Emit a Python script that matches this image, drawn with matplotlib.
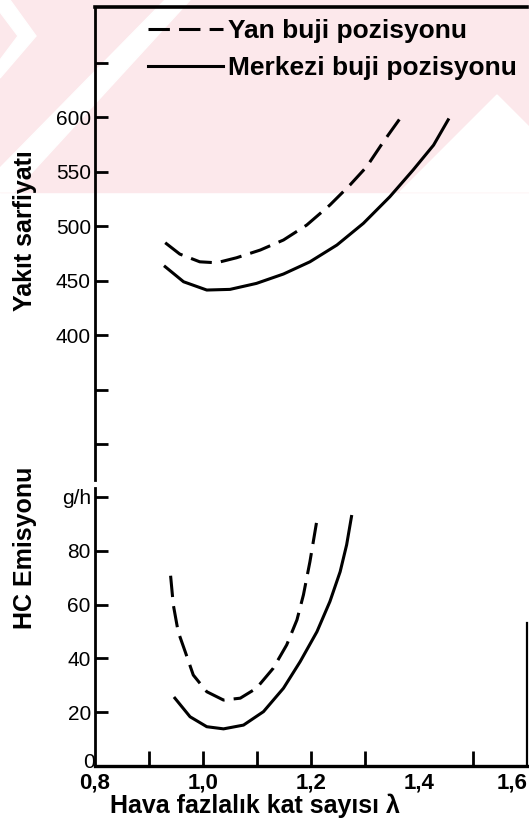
import matplotlib.pyplot as plt
from matplotlib.patches import Rectangle, Polygon
from matplotlib.transforms import ScaledTranslation

# Yakit sarfiyati (fuel consumption) vs lambda
lam_fuel_yan = [0.930, 0.957, 0.994, 1.025, 1.062, 1.106, 1.149, 1.192, 1.235,
                1.272, 1.303, 1.334, 1.365]
fuel_yan = [484.7, 474.3, 467.2, 466.3, 470.9, 478.0, 487.2, 500.9, 519.3,
            537.6, 554.4, 577.3, 598.8]

lam_fuel_merkez = [0.930, 0.964, 1.007, 1.050, 1.099, 1.149, 1.198, 1.248, 1.297,
                   1.346, 1.389, 1.427, 1.454]
fuel_merkez = [462.7, 448.9, 441.3, 441.9, 447.4, 456.0, 467.2, 482.6, 502.5,
               526.9, 551.4, 574.3, 597.5]

# HC emisyonu vs lambda
lam_hc_yan = [0.940, 0.945, 0.954, 0.967, 0.982, 1.007, 1.038, 1.069, 1.099,
              1.130, 1.155, 1.174, 1.186, 1.198, 1.211]
hc_yan = [70.7, 59.9, 49.9, 42.5, 33.8, 27.6, 24.5, 25.2, 28.9,
          36.3, 45.0, 54.3, 63.6, 75.9, 91.4]

lam_hc_merkez = [0.948, 0.976, 1.007, 1.038, 1.075, 1.112, 1.149, 1.180, 1.211,
                 1.235, 1.254, 1.266, 1.275]
hc_merkez = [25.2, 18.3, 14.6, 13.8, 15.2, 20.2, 28.9, 38.8, 49.9,
             61.1, 72.2, 82.2, 92.7]

fuel_ticks = [300, 350, 400, 450, 500, 550, 600, 650]
fuel_labels = ['', '', '400', '450', '500', '550', '600', '']
hc_ticks = [0, 20, 40, 60, 80, 100]
hc_labels = ['0', '20', '40', '60', '80', 'g/h']
x_label_pos = [0.8, 1.0, 1.2, 1.4, 1.6]
x_labels = ['0,8', '1,0', '1,2', '1,4', '1,6']
x_marks = [0.9, 1.0, 1.1, 1.2, 1.3, 1.5]

plt.rcParams['font.family'] = ['Liberation Sans', 'DejaVu Sans']

W, H = 529, 830
fig = plt.figure(figsize=(W / 100, H / 100), dpi=100)


def fpos(x, y):
    return (x / W, 1 - y / H)


# faint pink watermark band at the top of the scan
fig.patches.append(Rectangle(fpos(0, 192), 1, 192 / H, transform=fig.transFigure,
                             color='#fce8eb', zorder=-3))
white_shapes = [
    [(0, 0), (10, 0), (36, 36), (0, 78), (0, 60), (18, 36), (0, 12)],
    [(0, 168), (0, 192), (14, 192), (190, 0), (165, 0)],
    [(497, 95), (400, 192), (529, 192), (529, 127)],
]
for pts in white_shapes:
    fig.patches.append(Polygon([fpos(*p) for p in pts], closed=True,
                               transform=fig.transFigure, color='white', zorder=-2))

ax_top = fig.add_axes([95 / W, 1 - 480 / H, 432 / W, 473 / H])
ax_bot = fig.add_axes([95 / W, 1 - 766 / H, 432 / W, 278 / H])
for ax in (ax_top, ax_bot):
    ax.set_facecolor('none')
    ax.set_zorder(2)
    ax.set_xlim(0.8, 1.6)

# upper panel
ax_top.plot(lam_fuel_yan, fuel_yan, color='black', lw=2.2, dashes=(7, 3),
            label='Yan buji pozisyonu')
ax_top.plot(lam_fuel_merkez, fuel_merkez, color='black', lw=2.2,
            label='Merkezi buji pozisyonu')
ax_top.set_ylim(267, 701)
ax_top.spines['bottom'].set_visible(False)
ax_top.spines['right'].set_visible(False)
ax_top.spines['left'].set_linewidth(2)
ax_top.spines['top'].set_linewidth(2.6)
ax_top.set_yticks(fuel_ticks, fuel_labels)
ax_top.tick_params(axis='y', direction='in', length=9, width=2, labelsize=15, pad=3)
ax_top.tick_params(axis='x', bottom=False, labelbottom=False)

leg = ax_top.legend(loc='upper left', bbox_to_anchor=fpos(148, 19),
                    bbox_transform=fig.transFigure, frameon=False,
                    prop={'size': 19, 'weight': 'bold'}, handlelength=2.85,
                    handletextpad=0.2, borderpad=0, borderaxespad=0,
                    labelspacing=0.5)

# lower panel
ax_bot.plot(lam_hc_yan, hc_yan, color='black', lw=2.2, dashes=(7, 3))
ax_bot.plot(lam_hc_merkez, hc_merkez, color='black', lw=2.2)
ax_bot.set_ylim(0, 103.3)
ax_bot.spines['top'].set_visible(False)
ax_bot.spines['left'].set_linewidth(2)
ax_bot.spines['bottom'].set_linewidth(2.4)
ax_bot.spines['right'].set_linewidth(1.6)
ax_bot.spines['right'].set_bounds(0, 53)
ax_bot.set_yticks(hc_ticks, hc_labels)
ax_bot.get_yticklabels()[-1].set_fontsize(12)
ax_bot.tick_params(axis='y', direction='in', length=9, width=2, labelsize=15, pad=3)
ax_bot.get_yticklabels()[0].set_transform(
    ax_bot.get_yaxis_transform(which='tick1') + ScaledTranslation(0, 4 / 72, fig.dpi_scale_trans))
ax_bot.xaxis.remove_overlapping_locs = False
ax_bot.set_xticks(x_label_pos, x_labels)
ax_bot.set_xticks(x_marks, minor=True)
ax_bot.tick_params(axis='x', which='major', length=0, labelsize=16, pad=5)
ax_bot.tick_params(axis='x', which='minor', direction='in', length=11, width=2)
for t in ax_bot.get_xticklabels():
    t.set_fontweight('bold')
ax_bot.get_xticklabels()[-1].set_horizontalalignment('right')

fig.text(*fpos(25, 231), 'Yakıt sarfiyatı', rotation=90, ha='center', va='center',
         fontsize=18, fontweight='bold')
fig.text(*fpos(25, 548), 'HC Emisyonu', rotation=90, ha='center', va='center',
         fontsize=18, fontweight='bold')
fig.text(*fpos(255, 806), 'Hava fazlalık kat sayısı λ', ha='center', va='center',
         fontsize=18, fontweight='bold')

fig.savefig('out.png', dpi=100)
